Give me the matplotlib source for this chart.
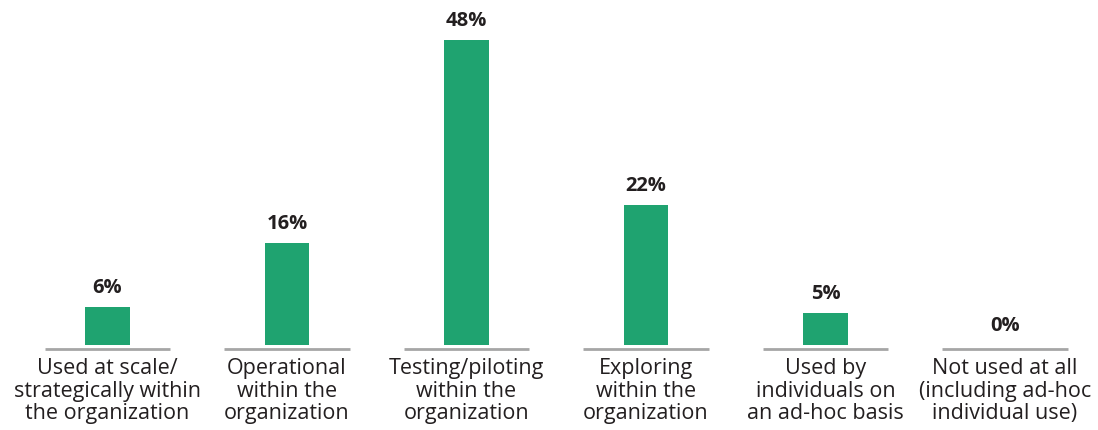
import numpy as np
import matplotlib.pyplot as plt

categories = [
    "Used at scale/\nstrategically within\nthe organization",
    "Operational\nwithin the\norganization",
    "Testing/piloting\nwithin the\norganization",
    "Exploring\nwithin the\norganization",
    "Used by\nindividuals on\nan ad-hoc basis",
    "Not used at all\n(including ad-hoc\nindividual use)",
]
shares = [6, 16, 48, 22, 5, 0]

green = "#1fa370"
grey_line = "#a6a6a6"
ink = "#231f20"

plt.rcParams['font.family'] = ['Open Sans', 'DejaVu Sans']

fig = plt.figure(figsize=(10.98, 4.3), dpi=100)
ax = fig.add_axes([0, 0, 1, 1])

x = np.arange(len(shares))
ax.bar(x, shares, width=0.25, color=green)

# separate baseline under each bar
for xi in x:
    ax.plot([xi - 0.35, xi + 0.35], [-0.63, -0.63], color=grey_line, lw=2.0,
            solid_capstyle='butt')

for xi, v, lab in zip(x, shares, categories):
    ax.annotate(f"{v}%", (xi, v), xytext=(0, 9), textcoords='offset pixels',
                ha='center', va='bottom', fontsize=14.5, fontweight='bold', color=ink)
    ax.annotate(lab, (xi, -0.63), xytext=(0, -9), textcoords='offset pixels',
                ha='center', va='top', fontsize=15.5, color=ink, linespacing=1.1)

ax.set_xlim(-0.599, 5.518)
ax.set_ylim(-13.39, 54.33)
ax.axis('off')

fig.savefig("out.png", dpi=100)
